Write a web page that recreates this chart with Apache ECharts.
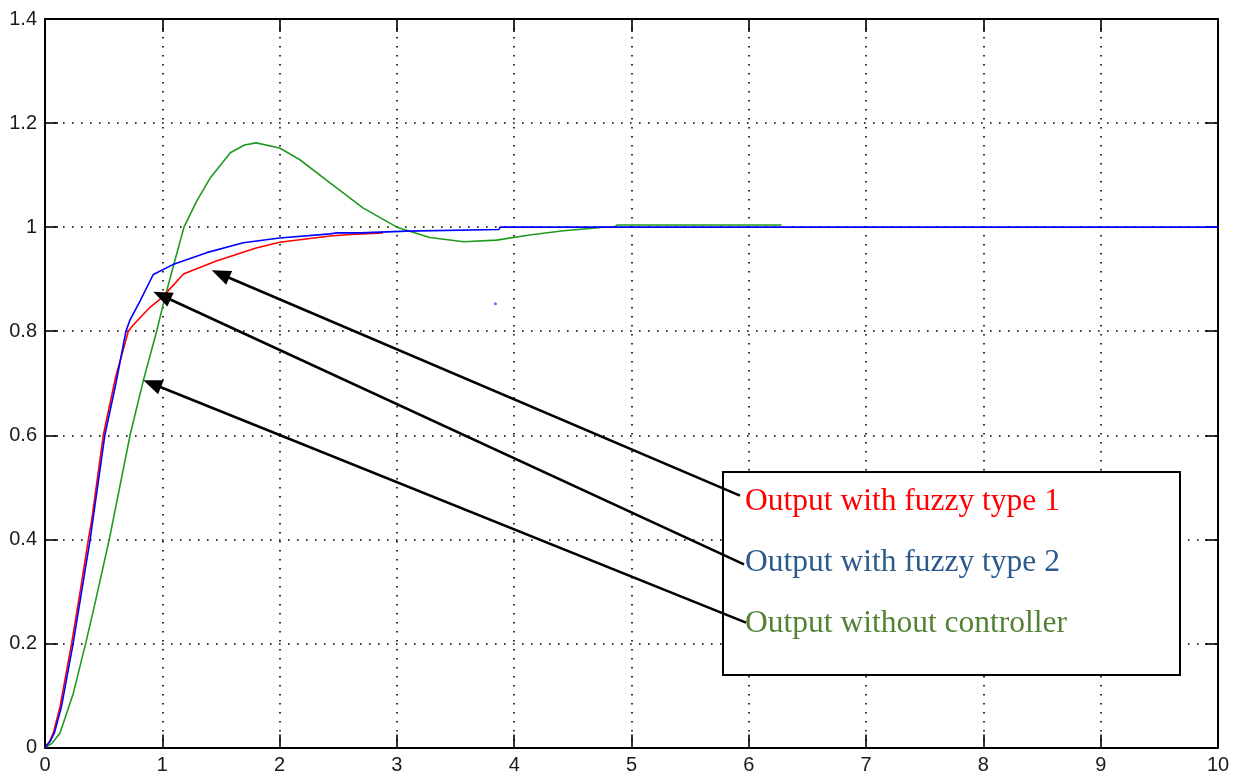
<!DOCTYPE html>
<html>
<head>
<meta charset="utf-8">
<script src="https://cdn.jsdelivr.net/npm/echarts@6/dist/echarts.min.js"></script>
<style>
html,body{margin:0;padding:0;background:#fff;}
#c{width:1240px;height:780px;}
</style>
</head>
<body>
<div id="c"></div>
<script>
// ---- data ----
const xTicks = [0,1,2,3,4,5,6,7,8,9,10];
const xTickLabels = ['0','1','2','3','4','5','6','7','8','9','10'];
const yTicks = [0,0.2,0.4,0.6,0.8,1,1.2,1.4];
const yTickLabels = ['0','0.2','0.4','0.6','0.8','1','1.2','1.4'];

// Output with fuzzy type 1 (red)
const fuzzy1X = [0,0.04,0.071,0.128,0.227,0.30,0.37,0.398,0.497,0.60,0.71,0.745,0.81,0.90,0.995,1.18,1.46,1.80,2.0,2.43,2.6,2.88];
const fuzzy1Y = [0,0.012,0.028,0.078,0.2,0.3,0.4,0.437,0.6,0.71,0.8,0.81,0.826,0.847,0.864,0.910,0.935,0.960,0.971,0.983,0.986,0.989];

// Output with fuzzy type 2 (blue)
const fuzzy2X = [0,0.045,0.08,0.14,0.24,0.385,0.51,0.605,0.69,0.725,0.81,0.923,1.09,1.378,1.69,2.0,2.43,2.49,2.69,2.70,3.08,3.09,3.87,3.88,10];
const fuzzy2Y = [0,0.012,0.028,0.078,0.2,0.4,0.6,0.7,0.8,0.822,0.858,0.909,0.928,0.951,0.970,0.979,0.987,0.989,0.989,0.9923,0.9923,0.9956,0.9956,1.0,1.0];

// Output without controller (green)
const noCtrlX = [0,0.06,0.128,0.241,0.347,0.426,0.548,0.725,0.838,0.952,0.995,1.037,1.094,1.185,1.293,1.41,1.58,1.70,1.80,2.0,2.17,2.43,2.71,3.0,3.28,3.57,3.85,4.13,4.42,4.67,4.75,4.85,4.88,6.28];
const noCtrlY = [0,0.008,0.028,0.104,0.2,0.277,0.4,0.6,0.705,0.8,0.84,0.877,0.925,1.0,1.05,1.095,1.143,1.158,1.162,1.152,1.13,1.085,1.037,1.0,0.98,0.972,0.975,0.985,0.993,0.998,1.0,1.0,1.004,1.004];

// stray blue point
const strayX = [3.84];
const strayY = [0.853];

// annotation texts and arrows (data coordinates: tail -> tip)
const legendLabels = ['Output with fuzzy type 1','Output with fuzzy type 2','Output without controller'];
const legendColors = ['#ff0000','#2b5b8c','#548235'];
const arrowFrom = [[5.925,0.484],[5.959,0.352],[5.976,0.240]];
const arrowTo = [[1.421,0.917],[0.923,0.876],[0.838,0.706]];

// ---- chart ----
const zip = (xs, ys) => xs.map((x,i)=>[x, ys[i]]);
const chart = echarts.init(document.getElementById('c'));

const labelFont = {fontFamily:'Liberation Sans, Arial, sans-serif', fontSize:20, color:'#1a1a1a'};
const gridLine = {show:true, lineStyle:{color:'#000', width:1.6, type:[1.6,7.4]}};
const axisLine = {show:true, onZero:false, lineStyle:{color:'#000', width:2}};
const tick = {show:true, inside:true, length:13, lineStyle:{color:'#000', width:1.6}};

const option = {
  backgroundColor:'#fff',
  animation:false,
  grid:{left:45, right:22, top:19, bottom:32.5, containLabel:false},
  xAxis:[
    {type:'value', min:0, max:10, interval:1, position:'bottom',
     axisLine:axisLine, axisTick:tick, splitLine:gridLine,
     axisLabel:Object.assign({margin:8, formatter:v=>xTickLabels[xTicks.indexOf(Math.round(v))]}, labelFont)},
    {type:'value', min:0, max:10, interval:1, position:'top',
     axisLine:axisLine, axisTick:tick, splitLine:{show:false}, axisLabel:{show:false}}
  ],
  yAxis:[
    {type:'value', min:0, max:1.4, interval:0.2, position:'left',
     axisLine:axisLine, axisTick:tick, splitLine:gridLine,
     axisLabel:Object.assign({margin:8, formatter:v=>{const i=yTicks.findIndex(t=>Math.abs(t-v)<1e-6);return i>=0?yTickLabels[i]:'';}}, labelFont)},
    {type:'value', min:0, max:1.4, interval:0.2, position:'right',
     axisLine:axisLine, axisTick:tick, splitLine:{show:false}, axisLabel:{show:false}}
  ],
  series:[
    {name:'Output without controller', type:'line', data:zip(noCtrlX,noCtrlY), showSymbol:false, symbol:'none',
     lineStyle:{color:'#1f9a1f', width:1.6}, z:3},
    {name:'Output with fuzzy type 1', type:'line', data:zip(fuzzy1X,fuzzy1Y), showSymbol:false, symbol:'none',
     lineStyle:{color:'#ff0000', width:1.6}, z:4},
    {name:'Output with fuzzy type 2', type:'line', data:zip(fuzzy2X,fuzzy2Y), showSymbol:false, symbol:'none',
     lineStyle:{color:'#0000ff', width:1.6}, z:5},
    {name:'stray', type:'scatter', data:zip(strayX,strayY), symbol:'circle', symbolSize:3,
     itemStyle:{color:'#4040ff'}, z:5}
  ]
};
chart.setOption(option);

// ---- annotation box and arrows ----
const gfx = [];
gfx.push({type:'rect', z:100, shape:{x:723, y:472, width:457, height:203},
  style:{fill:'#fff', stroke:'#000', lineWidth:2}});
const baselines = [511, 572, 633];
legendLabels.forEach((t,i)=>{
  gfx.push({type:'text', z:101, x:745, y:baselines[i]-9.5,
    style:{text:t, fill:legendColors[i], font:'31.5px "Liberation Serif", "Times New Roman", serif',
      textAlign:'left', textVerticalAlign:'middle', verticalAlign:'middle'}});
});
arrowFrom.forEach((f,i)=>{
  const p0 = chart.convertToPixel({gridIndex:0}, f);
  const p1 = chart.convertToPixel({gridIndex:0}, arrowTo[i]);
  const dx = p1[0]-p0[0], dy = p1[1]-p0[1];
  const L = Math.sqrt(dx*dx+dy*dy), ux = dx/L, uy = dy/L;
  const hl = 19, hw = 7.5;
  const bx = p1[0]-ux*hl, by = p1[1]-uy*hl;
  gfx.push({type:'line', z:102, shape:{x1:p0[0], y1:p0[1], x2:bx+ux*2, y2:by+uy*2},
    style:{stroke:'#000', lineWidth:2.6}});
  gfx.push({type:'polygon', z:103, shape:{points:[[p1[0],p1[1]],[bx-uy*hw, by+ux*hw],[bx+uy*hw, by-ux*hw]]},
    style:{fill:'#000'}});
});
chart.setOption({graphic:gfx});
</script>
</body>
</html>
